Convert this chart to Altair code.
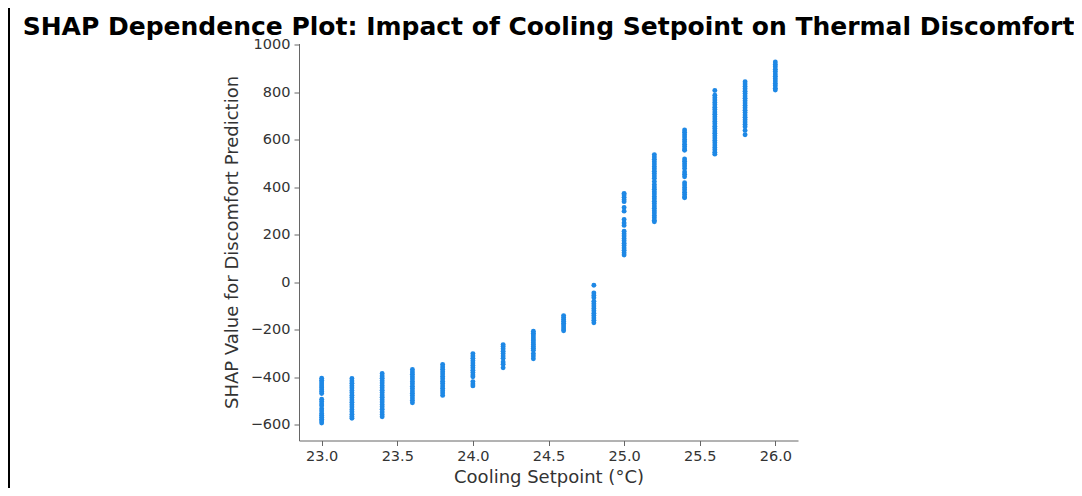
import altair as alt
import pandas as pd

# Cooling setpoint levels (°C) and the SHAP values
setpoints = [23.0, 23.2, 23.4, 23.6, 23.8, 24.0, 24.2, 24.4,
             24.6, 24.8, 25.0, 25.2, 25.4, 25.6, 25.8, 26.0]

shap_230 = [-404, -412, -420, -428, -436, -444, -452, -460, -468, -492, -502,
            -512, -520, -532, -542, -552, -560, -568, -576, -584, -592]
shap_232 = [-405, -415, -425, -435, -445, -455, -465, -475, -485, -495, -505,
            -515, -525, -535, -545, -555, -565, -572]
shap_234 = [-384, -394, -404, -414, -424, -434, -444, -454, -464, -474, -484,
            -494, -504, -514, -524, -534, -546, -556, -566]
shap_236 = [-367, -377, -387, -397, -407, -417, -427, -437, -447, -457, -467,
            -477, -487, -497, -507]
shap_238 = [-346, -356, -366, -376, -386, -396, -406, -416, -426, -436, -446,
            -456, -466, -476]
shap_240 = [-300, -310, -320, -330, -340, -350, -360, -370, -380, -390, -398,
            -418, -428, -436]
shap_242 = [-262, -270, -280, -290, -300, -310, -320, -335, -345, -360]
shap_244 = [-206, -214, -222, -230, -238, -246, -254, -262, -270, -278, -286,
            -300, -310, -322]
shap_246 = [-140, -148, -156, -164, -172, -180, -188, -196, -204]
shap_248 = [-12, -45, -55, -65, -80, -90, -100, -110, -120, -130, -140, -150,
            -160, -170]
shap_250 = [375, 368, 358, 348, 340, 315, 300, 265, 250, 240, 215, 205, 195,
            185, 175, 165, 155, 145, 135, 125, 115]
shap_252 = [538, 528, 518, 508, 498, 488, 478, 468, 458, 448, 438, 425, 412,
            402, 392, 382, 372, 362, 352, 342, 332, 322, 312, 302, 292, 282,
            272, 262, 255]
shap_254 = [642, 632, 622, 612, 602, 592, 582, 572, 562, 556, 520, 510, 500,
            490, 480, 465, 455, 445, 420, 410, 400, 390, 380, 370, 360, 356]
shap_256 = [808, 788, 778, 768, 758, 748, 738, 728, 718, 708, 698, 688, 678,
            668, 658, 648, 638, 628, 618, 608, 598, 588, 578, 568, 558, 548,
            540]
shap_258 = [845, 835, 825, 815, 805, 795, 785, 775, 765, 755, 745, 735, 725,
            715, 705, 695, 685, 675, 665, 655, 640, 622]
shap_260 = [928, 918, 908, 898, 888, 878, 868, 858, 848, 838, 828, 818, 810]

columns = [shap_230, shap_232, shap_234, shap_236, shap_238, shap_240,
           shap_242, shap_244, shap_246, shap_248, shap_250, shap_252,
           shap_254, shap_256, shap_258, shap_260]

rows = []
for sp, vals in zip(setpoints, columns):
    for v in vals:
        rows.append({"setpoint": sp, "shap": v})
df = pd.DataFrame(rows)

x_ticks = [23.0, 23.5, 24.0, 24.5, 25.0, 25.5, 26.0]
y_ticks = [-600, -400, -200, 0, 200, 400, 600, 800, 1000]

points = alt.Chart(df).mark_circle(size=24, color="#1E88E5", opacity=1).encode(
    x=alt.X("setpoint:Q", title="Cooling Setpoint (°C)",
            scale=alt.Scale(domain=[22.85, 26.15], nice=False, zero=False),
            axis=alt.Axis(values=x_ticks, format=".1f")),
    y=alt.Y("shap:Q", title="SHAP Value for Discomfort Prediction",
            scale=alt.Scale(domain=[-666, 1006], nice=False, zero=False),
            axis=alt.Axis(values=y_ticks, format="d")),
)

frame_df = pd.DataFrame({"edge": ["left"]})
frame_left = alt.Chart(frame_df).mark_rule(color="#000000", strokeWidth=2).encode(
    x=alt.value(-290), y=alt.value(-35.5), y2=alt.value(452.5)
)

chart = alt.layer(frame_left, points).properties(
    width=499,
    height=397,
    autosize=alt.AutoSizeParams(type="none"),
    padding={"left": 291, "top": 35.5, "right": 276, "bottom": 47.5},
    title=alt.TitleParams(
        "SHAP Dependence Plot: Impact of Cooling Setpoint on Thermal Discomfort",
        font="DejaVu Sans", fontSize=25, fontWeight="bold", color="#000000",
        anchor="middle", offset=-33,
    ),
).configure_view(stroke=None).configure_axis(
    labelFont="DejaVu Sans", labelFontSize=14.5, labelColor="#333333",
    titleFont="DejaVu Sans", titleFontSize=18, titleColor="#333333",
    titleFontWeight="normal",
    domainColor="#666666", tickColor="#666666", tickSize=5,
    labelPadding=4, grid=False,
).configure_axisX(titlePadding=5).configure_axisY(titlePadding=9)

chart.save("out.html", embed_options={"renderer": "svg", "actions": False})
